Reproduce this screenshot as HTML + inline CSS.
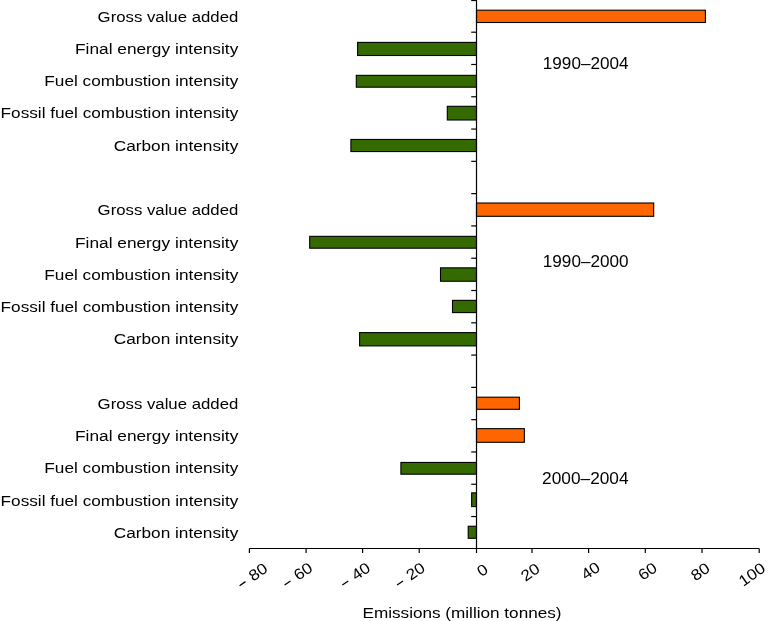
<!DOCTYPE html>
<html><head><meta charset="utf-8"><style>
html,body{margin:0;padding:0;background:#fff;}
svg{display:block;will-change:transform;}
text{font-family:"Liberation Sans",sans-serif;font-size:15.4px;fill:#000;}
</style></head><body>
<svg width="768" height="621" viewBox="0 0 768 621">
<rect x="476.50" y="10.20" width="228.90" height="12.30" fill="#ff6600" stroke="#000" stroke-width="1.1"/>
<rect x="357.60" y="42.40" width="118.90" height="13.10" fill="#356a00" stroke="#000" stroke-width="1.1"/>
<rect x="356.30" y="75.35" width="120.20" height="11.85" fill="#356a00" stroke="#000" stroke-width="1.1"/>
<rect x="447.30" y="106.30" width="29.20" height="13.70" fill="#356a00" stroke="#000" stroke-width="1.1"/>
<rect x="350.90" y="139.45" width="125.60" height="12.10" fill="#356a00" stroke="#000" stroke-width="1.1"/>
<rect x="476.50" y="203.00" width="177.20" height="13.30" fill="#ff6600" stroke="#000" stroke-width="1.1"/>
<rect x="309.70" y="236.35" width="166.80" height="11.85" fill="#356a00" stroke="#000" stroke-width="1.1"/>
<rect x="440.50" y="267.85" width="36.00" height="13.40" fill="#356a00" stroke="#000" stroke-width="1.1"/>
<rect x="452.50" y="300.35" width="24.00" height="12.25" fill="#356a00" stroke="#000" stroke-width="1.1"/>
<rect x="359.60" y="332.60" width="116.90" height="13.30" fill="#356a00" stroke="#000" stroke-width="1.1"/>
<rect x="476.50" y="397.20" width="42.90" height="12.10" fill="#ff6600" stroke="#000" stroke-width="1.1"/>
<rect x="476.50" y="428.65" width="47.85" height="13.65" fill="#ff6600" stroke="#000" stroke-width="1.1"/>
<rect x="400.90" y="462.45" width="75.60" height="11.75" fill="#356a00" stroke="#000" stroke-width="1.1"/>
<rect x="471.65" y="492.85" width="4.85" height="13.75" fill="#356a00" stroke="#000" stroke-width="1.1"/>
<rect x="468.20" y="526.25" width="8.30" height="12.05" fill="#356a00" stroke="#000" stroke-width="1.1"/>
<line x1="476.5" y1="0" x2="476.5" y2="549.0" stroke="#000" stroke-width="1.2"/>
<line x1="471.20" y1="0.50" x2="476.5" y2="0.50" stroke="#000" stroke-width="1.2"/>
<line x1="471.20" y1="32.19" x2="476.5" y2="32.19" stroke="#000" stroke-width="1.2"/>
<line x1="471.20" y1="64.48" x2="476.5" y2="64.48" stroke="#000" stroke-width="1.2"/>
<line x1="471.20" y1="96.77" x2="476.5" y2="96.77" stroke="#000" stroke-width="1.2"/>
<line x1="471.20" y1="129.06" x2="476.5" y2="129.06" stroke="#000" stroke-width="1.2"/>
<line x1="471.20" y1="161.35" x2="476.5" y2="161.35" stroke="#000" stroke-width="1.2"/>
<line x1="471.20" y1="193.64" x2="476.5" y2="193.64" stroke="#000" stroke-width="1.2"/>
<line x1="471.20" y1="225.93" x2="476.5" y2="225.93" stroke="#000" stroke-width="1.2"/>
<line x1="471.20" y1="258.22" x2="476.5" y2="258.22" stroke="#000" stroke-width="1.2"/>
<line x1="471.20" y1="290.51" x2="476.5" y2="290.51" stroke="#000" stroke-width="1.2"/>
<line x1="471.20" y1="322.80" x2="476.5" y2="322.80" stroke="#000" stroke-width="1.2"/>
<line x1="471.20" y1="355.09" x2="476.5" y2="355.09" stroke="#000" stroke-width="1.2"/>
<line x1="471.20" y1="387.38" x2="476.5" y2="387.38" stroke="#000" stroke-width="1.2"/>
<line x1="471.20" y1="419.67" x2="476.5" y2="419.67" stroke="#000" stroke-width="1.2"/>
<line x1="471.20" y1="451.96" x2="476.5" y2="451.96" stroke="#000" stroke-width="1.2"/>
<line x1="471.20" y1="484.25" x2="476.5" y2="484.25" stroke="#000" stroke-width="1.2"/>
<line x1="471.20" y1="516.54" x2="476.5" y2="516.54" stroke="#000" stroke-width="1.2"/>
<line x1="249.3" y1="548.5" x2="759.2" y2="548.5" stroke="#000" stroke-width="1.2"/>
<line x1="249.40" y1="548.5" x2="249.40" y2="553.0" stroke="#000" stroke-width="1.2"/>
<line x1="306.10" y1="548.5" x2="306.10" y2="553.0" stroke="#000" stroke-width="1.2"/>
<line x1="362.60" y1="548.5" x2="362.60" y2="553.0" stroke="#000" stroke-width="1.2"/>
<line x1="419.20" y1="548.5" x2="419.20" y2="553.0" stroke="#000" stroke-width="1.2"/>
<line x1="476.50" y1="548.5" x2="476.50" y2="553.0" stroke="#000" stroke-width="1.2"/>
<line x1="532.00" y1="548.5" x2="532.00" y2="553.0" stroke="#000" stroke-width="1.2"/>
<line x1="588.60" y1="548.5" x2="588.60" y2="553.0" stroke="#000" stroke-width="1.2"/>
<line x1="645.30" y1="548.5" x2="645.30" y2="553.0" stroke="#000" stroke-width="1.2"/>
<line x1="702.00" y1="548.5" x2="702.00" y2="553.0" stroke="#000" stroke-width="1.2"/>
<line x1="759.20" y1="548.5" x2="759.20" y2="553.0" stroke="#000" stroke-width="1.2"/>
<text x="238.3" y="21.70" text-anchor="end" textLength="140.70" lengthAdjust="spacingAndGlyphs">Gross value added</text>
<text x="238.3" y="53.96" text-anchor="end" textLength="163.25" lengthAdjust="spacingAndGlyphs">Final energy intensity</text>
<text x="238.3" y="86.22" text-anchor="end" textLength="193.95" lengthAdjust="spacingAndGlyphs">Fuel combustion intensity</text>
<text x="238.3" y="118.48" text-anchor="end" textLength="237.70" lengthAdjust="spacingAndGlyphs">Fossil fuel combustion intensity</text>
<text x="238.3" y="150.74" text-anchor="end" textLength="124.60" lengthAdjust="spacingAndGlyphs">Carbon intensity</text>
<text x="238.3" y="215.26" text-anchor="end" textLength="140.70" lengthAdjust="spacingAndGlyphs">Gross value added</text>
<text x="238.3" y="247.52" text-anchor="end" textLength="163.25" lengthAdjust="spacingAndGlyphs">Final energy intensity</text>
<text x="238.3" y="279.78" text-anchor="end" textLength="193.95" lengthAdjust="spacingAndGlyphs">Fuel combustion intensity</text>
<text x="238.3" y="312.04" text-anchor="end" textLength="237.70" lengthAdjust="spacingAndGlyphs">Fossil fuel combustion intensity</text>
<text x="238.3" y="344.30" text-anchor="end" textLength="124.60" lengthAdjust="spacingAndGlyphs">Carbon intensity</text>
<text x="238.3" y="408.82" text-anchor="end" textLength="140.70" lengthAdjust="spacingAndGlyphs">Gross value added</text>
<text x="238.3" y="441.08" text-anchor="end" textLength="163.25" lengthAdjust="spacingAndGlyphs">Final energy intensity</text>
<text x="238.3" y="473.34" text-anchor="end" textLength="193.95" lengthAdjust="spacingAndGlyphs">Fuel combustion intensity</text>
<text x="238.3" y="505.60" text-anchor="end" textLength="237.70" lengthAdjust="spacingAndGlyphs">Fossil fuel combustion intensity</text>
<text x="238.3" y="537.86" text-anchor="end" textLength="124.60" lengthAdjust="spacingAndGlyphs">Carbon intensity</text>
<text x="542.80" y="68.60" textLength="85.80" lengthAdjust="spacingAndGlyphs" style="font-size:16.4px">1990–2004</text>
<text x="542.80" y="266.90" textLength="85.80" lengthAdjust="spacingAndGlyphs" style="font-size:16.4px">1990–2000</text>
<text x="542.10" y="484.05" textLength="86.50" lengthAdjust="spacingAndGlyphs" style="font-size:16.4px">2000–2004</text>
<g transform="translate(253.10,574.70) rotate(-35)"><line x1="-17.4" y1="1.3" x2="-10.2" y2="1.3" stroke="#000" stroke-width="1.25"/><text x="15.09" y="5.9" text-anchor="end" textLength="19.08" lengthAdjust="spacingAndGlyphs">80</text></g>
<g transform="translate(298.10,574.00) rotate(-35)"><line x1="-17.4" y1="1.3" x2="-10.2" y2="1.3" stroke="#000" stroke-width="1.25"/><text x="15.09" y="5.9" text-anchor="end" textLength="19.08" lengthAdjust="spacingAndGlyphs">60</text></g>
<g transform="translate(355.90,574.00) rotate(-35)"><line x1="-17.4" y1="1.3" x2="-10.2" y2="1.3" stroke="#000" stroke-width="1.25"/><text x="15.09" y="5.9" text-anchor="end" textLength="19.08" lengthAdjust="spacingAndGlyphs">40</text></g>
<g transform="translate(410.60,574.00) rotate(-35)"><line x1="-17.4" y1="1.3" x2="-10.2" y2="1.3" stroke="#000" stroke-width="1.25"/><text x="15.09" y="5.9" text-anchor="end" textLength="19.08" lengthAdjust="spacingAndGlyphs">20</text></g>
<text transform="translate(482.00,569.70) rotate(-35)" x="0" y="5.9" text-anchor="middle" textLength="9.54" lengthAdjust="spacingAndGlyphs">0</text>
<text transform="translate(529.80,571.60) rotate(-35)" x="0" y="5.9" text-anchor="middle" textLength="19.08" lengthAdjust="spacingAndGlyphs">20</text>
<text transform="translate(590.20,570.30) rotate(-35)" x="0" y="5.9" text-anchor="middle" textLength="19.08" lengthAdjust="spacingAndGlyphs">40</text>
<text transform="translate(647.10,570.80) rotate(-35)" x="0" y="5.9" text-anchor="middle" textLength="19.08" lengthAdjust="spacingAndGlyphs">60</text>
<text transform="translate(699.90,571.20) rotate(-35)" x="0" y="5.9" text-anchor="middle" textLength="19.08" lengthAdjust="spacingAndGlyphs">80</text>
<text transform="translate(751.50,573.90) rotate(-35)" x="0" y="5.9" text-anchor="middle" textLength="28.6" lengthAdjust="spacingAndGlyphs">100</text>
<text x="362.5" y="617.5" textLength="199" lengthAdjust="spacingAndGlyphs">Emissions (million tonnes)</text>
</svg>
</body></html>
